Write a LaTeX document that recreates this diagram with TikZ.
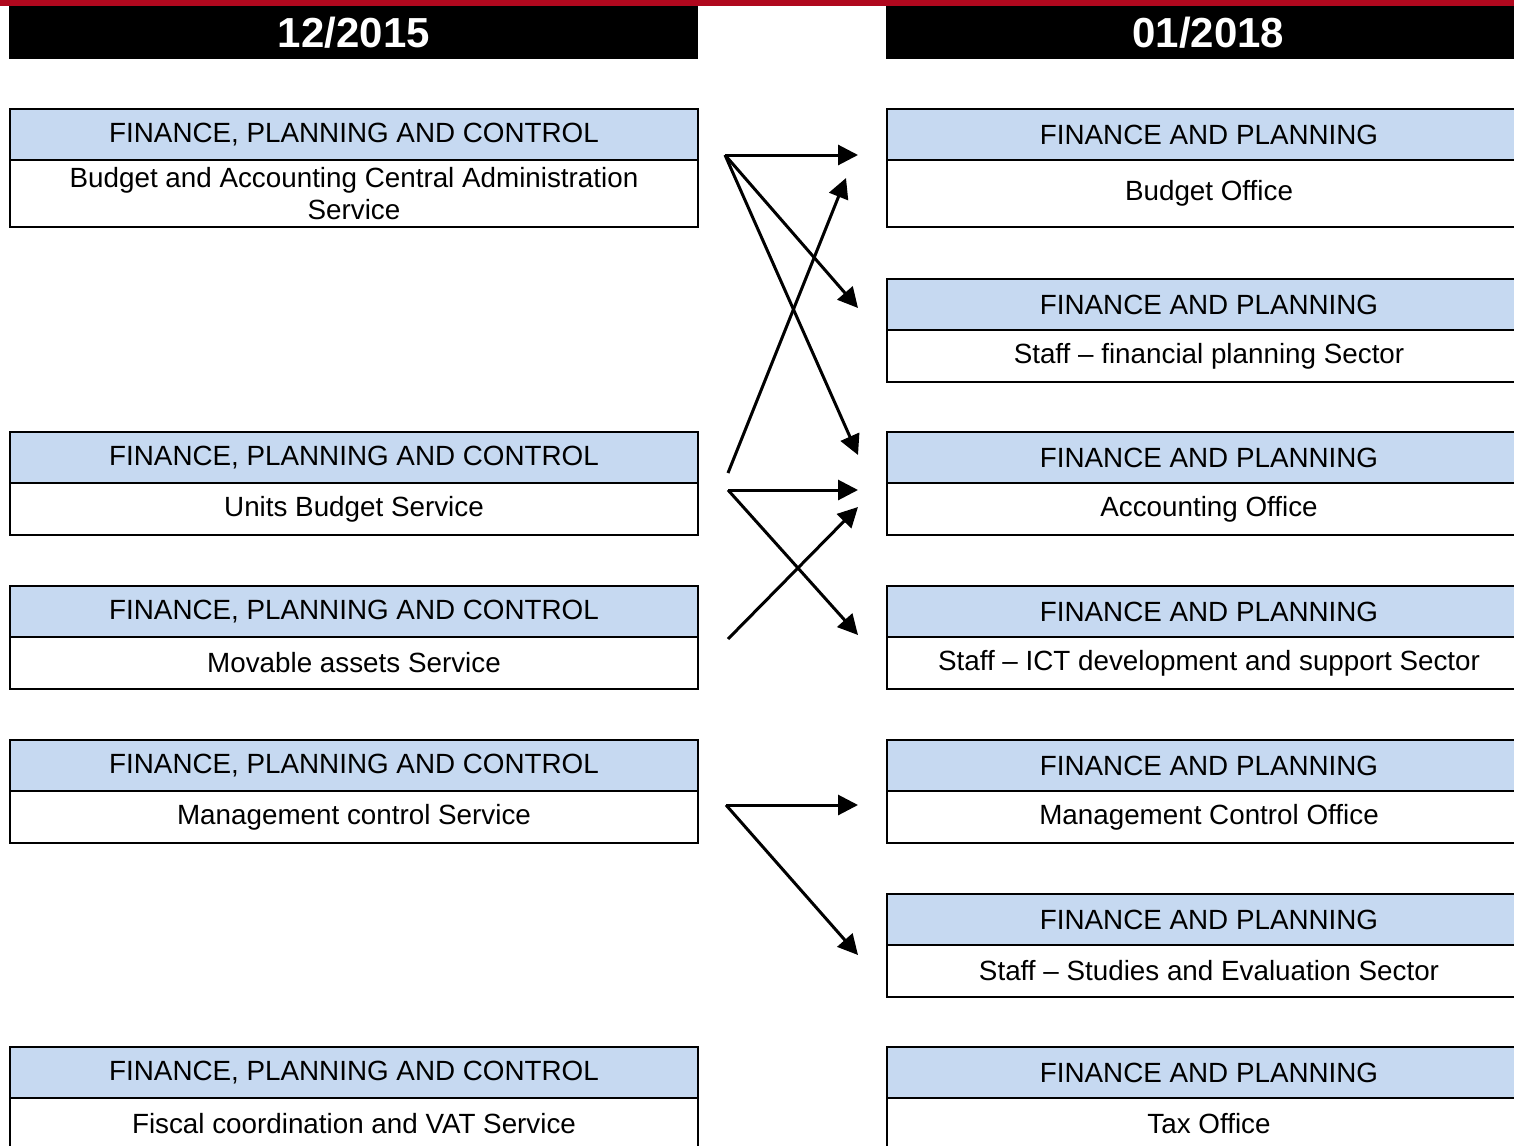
\documentclass[tikz,border=0pt]{standalone}
\usepackage{fontspec}
\setmainfont{Liberation Sans}
\usetikzlibrary{arrows.meta}
\definecolor{barred}{RGB}{176,8,30}
\definecolor{hdrblue}{RGB}{198,217,241}
\tikzset{
	unitbox/.style={draw=black, line width=1pt, inner sep=0pt, anchor=north west, align=center, font=\fontsize{13.9}{16}\selectfont},
	oldhead/.style={unitbox, fill=hdrblue, minimum width=344pt, minimum height=25.5pt},
	oldbody/.style={unitbox, fill=white, minimum width=344pt, minimum height=26pt},
	newhead/.style={unitbox, fill=hdrblue, minimum width=322pt, minimum height=25.5pt},
	newbody/.style={unitbox, fill=white, minimum width=322pt, minimum height=26pt},
	datebar/.style={fill=black, text=white, inner sep=0pt, anchor=north west, minimum height=26.5pt, font=\bfseries\fontsize{21}{24}\selectfont},
	move/.style={line width=1.5pt, -{Triangle[length=10pt,width=10pt]}}
}

\begin{document}
\begin{tikzpicture}[x=0.5pt, y=-0.5pt]
		%%%%% START %%%%%
		\useasboundingbox (0, 0) rectangle (1514, 1145);
		
		\fill[barred] (0, 0) rectangle (1514, 6);
		\node[datebar, minimum width=344.5pt] (olddate) at (9, 6) {12/2015};
		\node[datebar, minimum width=322pt] (newdate) at (886, 6) {01/2018};
		
		% units before
		\node[oldhead] (oldbudgeth) at (9, 108) {FINANCE, PLANNING AND CONTROL};
		\node[oldbody, minimum height=33.5pt] (oldbudget) at (9, 159) {Budget and Accounting Central Administration\\Service};
		
		\node[oldhead] (oldunitsh) at (9, 431) {FINANCE, PLANNING AND CONTROL};
		\node[oldbody] (oldunits) at (9, 482) {Units Budget Service};
		
		\node[oldhead] (oldassetsh) at (9, 585) {FINANCE, PLANNING AND CONTROL};
		\node[oldbody] (oldassets) at (9, 636) {Movable assets Service};
		
		\node[oldhead] (oldmgmth) at (9, 739) {FINANCE, PLANNING AND CONTROL};
		\node[oldbody] (oldmgmt) at (9, 790) {Management control Service};
		
		\node[oldhead] (oldfiscalh) at (9, 1046) {FINANCE, PLANNING AND CONTROL};
		\node[oldbody] (oldfiscal) at (9, 1097) {Fiscal coordination and VAT Service};
		
		% units after
		\node[newhead] (budgeth) at (886, 108) {FINANCE AND PLANNING};
		\node[newbody, minimum height=33.5pt] (budget) at (886, 159) {Budget Office};
		
		\node[newhead] (finstaffh) at (886, 278) {FINANCE AND PLANNING};
		\node[newbody] (finstaff) at (886, 329) {Staff -- financial planning Sector};
		
		\node[newhead] (accounth) at (886, 431) {FINANCE AND PLANNING};
		\node[newbody] (account) at (886, 482) {Accounting Office};
		
		\node[newhead] (ictstaffh) at (886, 585) {FINANCE AND PLANNING};
		\node[newbody] (ictstaff) at (886, 636) {Staff -- ICT development and support Sector};
		
		\node[newhead] (mgmth) at (886, 739) {FINANCE AND PLANNING};
		\node[newbody] (mgmt) at (886, 790) {Management Control Office};
		
		\node[newhead] (studyh) at (886, 893) {FINANCE AND PLANNING};
		\node[newbody] (study) at (886, 944) {Staff -- Studies and Evaluation Sector};
		
		\node[newhead] (taxh) at (886, 1046) {FINANCE AND PLANNING};
		\node[newbody] (tax) at (886, 1097) {Tax Office};
		
		% arrow ends
		\coordinate (budgetout) at (725, 155);
		\coordinate (unitsup) at (728, 473);
		\coordinate (unitsout) at (728, 490);
		\coordinate (assetsout) at (728, 639);
		\coordinate (mgmtout) at (726, 805);
		
		\coordinate (budgetin) at (858, 155);
		\coordinate (budgetlow) at (846, 178);
		\coordinate (finstaffin) at (858, 308);
		\coordinate (accountin) at (858, 455);
		\coordinate (accountmid) at (858, 490);
		\coordinate (accountlow) at (858, 507);
		\coordinate (ictstaffin) at (858, 635);
		\coordinate (mgmtin) at (858, 805);
		\coordinate (studyin) at (858, 955);
		
		\draw[move] (budgetout) -- (budgetin);
		\draw[move] (budgetout) -- (finstaffin);
		\draw[move] (budgetout) -- (accountin);
		\draw[move] (unitsup) -- (budgetlow);
		\draw[move] (unitsout) -- (accountmid);
		\draw[move] (unitsout) -- (ictstaffin);
		\draw[move] (assetsout) -- (accountlow);
		\draw[move] (mgmtout) -- (mgmtin);
		\draw[move] (mgmtout) -- (studyin);
		
		%%%%% END %%%%%
\end{tikzpicture}
\end{document}
